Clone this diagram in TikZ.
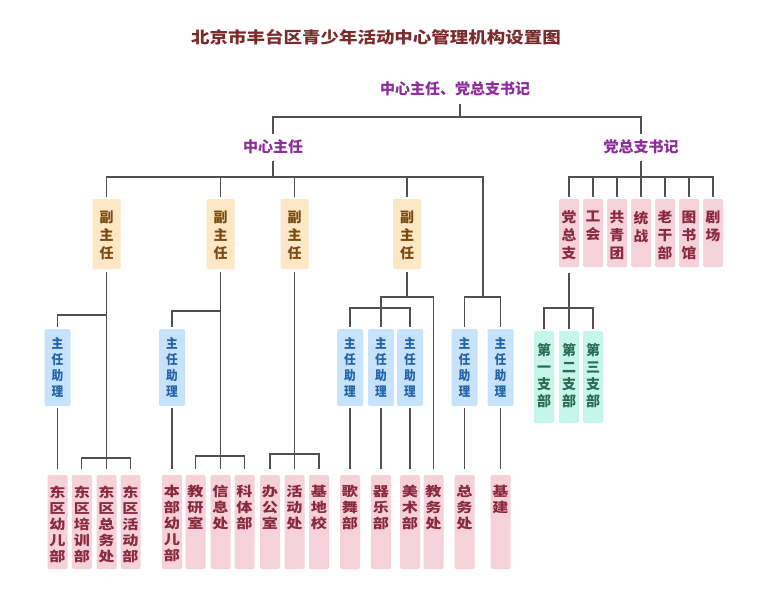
\documentclass[tikz,border=0pt]{standalone}
\usepackage{fontspec}
\usepackage{graphicx}
\setmainfont{Noto Sans CJK SC}
\usetikzlibrary{calc}
\definecolor{titlec}{HTML}{7B2B2B}
\definecolor{purp}{HTML}{8E2C9E}
\definecolor{linec}{HTML}{505050}
\definecolor{orf}{HTML}{FDE7C4}
\definecolor{ort}{HTML}{7A4A12}
\definecolor{blf}{HTML}{C6E3FB}
\definecolor{blt}{HTML}{2464A8}
\definecolor{pkf}{HTML}{F5D1D9}
\definecolor{pkt}{HTML}{8A2A40}
\definecolor{mnf}{HTML}{C6F6E9}
\definecolor{mnt}{HTML}{2A6E55}
\makeatletter
\newcommand\vtxs{1}
\newcommand\vtys{1}
\def\vt@loop#1{\ifx#1\@nil\else\scalebox{\vtxs}[\vtys]{#1}\par\expandafter\vt@loop\fi}
\newcommand\vtchars[1]{\vt@loop#1\@nil}
\newcommand\stackbox[4]{\parbox[c][#1][t]{#2}{\centering\vspace*{#3}\vtchars{#4}}}
\makeatother
\tikzset{
  conn/.style={draw=linec, line width=1.1pt},
  tnode/.style={inner sep=0pt, outer sep=0pt},
  box/.style={rounded corners=2pt, inner sep=0pt, outer sep=0pt, anchor=north},
  fzb/.style={box, fill=orf, text=ort, minimum width=28pt, minimum height=70pt,
    font=\bfseries\fontsize{14}{18}\selectfont,
    node contents={\stackbox{70pt}{28pt}{12pt}{#1}}},
  pka/.style={box, fill=pkf, text=pkt, minimum width=20pt, minimum height=68pt,
    font=\bfseries\fontsize{14}{18}\selectfont\renewcommand\vtxs{1.05},
    node contents={\stackbox{68pt}{20pt}{12pt}{#1}}},
  zlb/.style={box, fill=blf, text=blt, minimum width=26pt, minimum height=77pt,
    font=\bfseries\fontsize{13}{16}\selectfont\renewcommand\vtxs{0.9},
    node contents={\stackbox{77pt}{26pt}{8.5pt}{#1}}},
  zbb/.style={box, fill=mnf, text=mnt, minimum width=20pt, minimum height=92pt,
    font=\bfseries\fontsize{14}{17}\selectfont,
    node contents={\stackbox{92pt}{20pt}{12.5pt}{#1}}},
  pkb/.style={box, fill=pkf, text=pkt, minimum width=20pt, minimum height=94pt,
    font=\bfseries\fontsize{14}{16}\selectfont\renewcommand\vtxs{1.15}\renewcommand\vtys{0.95},
    node contents={\stackbox{94pt}{20pt}{10.5pt}{#1}}},
}
\begin{document}
\begin{tikzpicture}[x=1pt,y=-1pt]
\fill[white] (0,0) rectangle (768,613);
\useasboundingbox (0,0) rectangle (768,613);

\node[tnode, text=titlec, font=\bfseries\fontsize{16}{16}\selectfont] (title) at (376,37.5)
  {\scalebox{1.155}[1]{北京市丰台区青少年活动中心管理机构设置图}};

\node[tnode, text=purp, font=\bfseries\fontsize{15}{15}\selectfont, minimum height=30pt] (top) at (455,89) {中心主任、党总支书记};
\node[tnode, text=purp, font=\bfseries\fontsize{15}{15}\selectfont, minimum height=27pt] (zr) at (273,147) {中心主任};
\node[tnode, text=purp, font=\bfseries\fontsize{15}{15}\selectfont, minimum height=27pt] (db) at (641,147) {党总支书记};

% deputy directors
\node (fz1) at (106.5,199) [fzb=副主任];
\node (fz2) at (220.5,199) [fzb=副主任];
\node (fz3) at (294.5,199) [fzb=副主任];
\node (fz4) at (407,199) [fzb=副主任];

% party branch row
\node (dzz) at (569,199) [pka=党总支];
\node (gh) at (593,199) [pka=工会];
\node (gqt) at (617,199) [pka=共青团];
\node (tz) at (641,199) [pka=统战];
\node (lgb) at (665,199) [pka=老干部];
\node (tsg) at (689,199) [pka=图书馆];
\node (jc) at (713,199) [pka=剧场];

% assistants
\node (zl1) at (57.5,329) [zlb=主任助理];
\node (zl2) at (172,329) [zlb=主任助理];
\node (zl3) at (350,329) [zlb=主任助理];
\node (zl4) at (381,329) [zlb=主任助理];
\node (zl5) at (410,329) [zlb=主任助理];
\node (zl6) at (464.5,329) [zlb=主任助理];
\node (zl7) at (500.5,329) [zlb=主任助理];

% branches
\node (zb1) at (544,331) [zbb=第一支部];
\node (zb2) at (569,331) [zbb=第二支部];
\node (zb3) at (593,331) [zbb=第三支部];

% departments
\node (dq1) at (57.5,475) [pkb=东区幼儿部];
\node (dq2) at (81.8,475) [pkb=东区培训部];
\node (dq3) at (106.5,475) [pkb=东区总务处];
\node (dq4) at (130.5,475) [pkb=东区活动部];
\node (bb) at (172,475) [pkb=本部幼儿部];
\node (jy) at (195.5,475) [pkb=教研室];
\node (xx) at (220.5,475) [pkb=信息处];
\node (kt) at (244.5,475) [pkb=科体部];
\node (bg) at (270,475) [pkb=办公室];
\node (hd) at (294.5,475) [pkb=活动处];
\node (jdx) at (319,475) [pkb=基地校];
\node (gw) at (350,475) [pkb=歌舞部];
\node (qy) at (381,475) [pkb=器乐部];
\node (ms) at (410,475) [pkb=美术部];
\node (jw) at (433.5,475) [pkb=教务处];
\node (zw) at (464.5,475) [pkb=总务处];
\node (jj) at (500.5,475) [pkb=基建];

% top level
\coordinate (c0) at (460,117);
\draw[conn] (top.south -| c0) -- (c0);
\draw[conn] (zr.north) |- (c0) -| (db.north);

% centre director
\coordinate (c1) at (273,177);
\coordinate (c5) at (483,297);
\draw[conn] (zr.south) -- (c1);
\draw[conn, shorten <=2pt] (fz1.north) |- (c1);
\draw[conn, shorten <=2pt] (fz2.north) -- (fz2.north |- c1);
\draw[conn, shorten <=2pt] (fz3.north) -- (fz3.north |- c1);
\draw[conn, shorten <=2pt] (fz4.north) |- (c1);
\draw[conn] (c5) |- (c1);

% deputy 1
\coordinate (c11) at (106.5,315);
\coordinate (c12) at (106.5,458);
\draw[conn, shorten <=3pt] (fz1.south) -- (c12);
\draw[conn, shorten <=2pt] (zl1.north) |- (c11);
\draw[conn, shorten <=2pt, shorten >=6pt] (zl1.south) -- (dq1.north);
\draw[conn, shorten <=6pt] (dq2.north) |- (c12);
\draw[conn, shorten <=6pt] (dq4.north) |- (c12);
\draw[conn, shorten <=6pt] (dq3.north) -- (c12);

% deputy 2
\coordinate (c21) at (220.5,311);
\coordinate (c22) at (220.5,456);
\draw[conn, shorten <=3pt] (fz2.south) -- (c22);
\draw[conn, shorten <=2pt] (zl2.north) |- (c21);
\draw[conn, shorten <=2pt, shorten >=6pt] (zl2.south) -- (bb.north);
\draw[conn, shorten <=6pt] (jy.north) |- (c22);
\draw[conn, shorten <=6pt] (kt.north) |- (c22);
\draw[conn, shorten <=6pt] (xx.north) -- (c22);

% deputy 3
\coordinate (c32) at (294.5,454);
\draw[conn, shorten <=3pt] (fz3.south) -- (c32);
\draw[conn, shorten <=6pt] (bg.north) |- (c32);
\draw[conn, shorten <=6pt] (jdx.north) |- (c32);
\draw[conn, shorten <=6pt] (hd.north) -- (c32);

% deputy 4
\coordinate (c41) at (407,297);
\coordinate (c42) at (381,308);
\draw[conn, shorten <=3pt] (fz4.south) -- (c41);
\draw[conn, shorten <=2pt] (zl4.north) |- (c41);
\draw[conn, shorten <=6pt] (jw.north) |- (c41);
\draw[conn, shorten <=2pt] (zl3.north) |- (c42);
\draw[conn, shorten <=2pt] (zl5.north) |- (c42);
\draw[conn, shorten <=2pt, shorten >=6pt] (zl3.south) -- (gw.north);
\draw[conn, shorten <=2pt, shorten >=6pt] (zl4.south) -- (qy.north);
\draw[conn, shorten <=2pt, shorten >=6pt] (zl5.south) -- (ms.north);

% right branch of centre director
\draw[conn, shorten <=2pt] (zl6.north) |- (c5);
\draw[conn, shorten <=2pt] (zl7.north) |- (c5);
\draw[conn, shorten <=2pt, shorten >=6pt] (zl6.south) -- (zw.north);
\draw[conn, shorten <=2pt, shorten >=6pt] (zl7.south) -- (jj.north);

% party secretary
\coordinate (cd) at (641,177);
\draw[conn, shorten >=2pt] (db.south) -- (tz.north);
\draw[conn, shorten <=2pt] (dzz.north) |- (cd);
\draw[conn, shorten <=2pt] (jc.north) |- (cd);
\foreach \n in {gh,gqt,lgb,tsg}
  \draw[conn, shorten <=2pt] (\n.north) -- (\n.north |- cd);
\coordinate (cz) at (569,308);
\draw[conn, shorten <=6pt, shorten >=2pt] (dzz.south) -- (zb2.north);
\draw[conn, shorten <=2pt] (zb1.north) |- (cz);
\draw[conn, shorten <=2pt] (zb3.north) |- (cz);
\end{tikzpicture}
\end{document}
